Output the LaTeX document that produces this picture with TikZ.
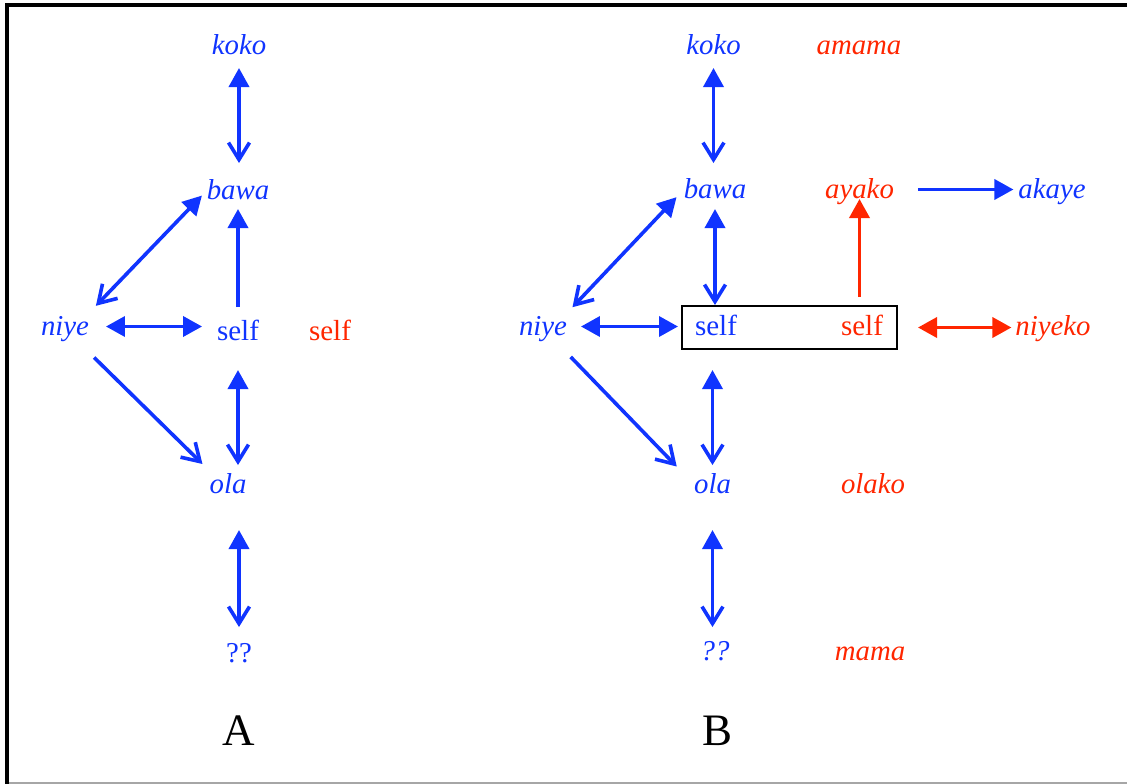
\documentclass[tikz,border=0pt]{standalone}
\usepackage{fontspec}
\setmainfont{Liberation Serif}
\usetikzlibrary{arrows.meta}
\definecolor{cblue}{RGB}{16,52,255}
\definecolor{cred}{RGB}{255,38,0}
\tikzset{
  ft/.tip={Triangle[width=20pt,length=19pt]},
  vt/.tip={Straight Barb[width=21pt,length=17pt]},
  lbl/.style={anchor=base, inner sep=0pt, outer sep=0pt, text height=22pt, text depth=5pt},
  bi/.style={lbl, text=cblue, font=\fontsize{28.8}{34}\selectfont\itshape},
  br/.style={lbl, text=cblue, font=\fontsize{29}{34}\selectfont},
  ri/.style={lbl, text=cred, font=\fontsize{28.8}{34}\selectfont\itshape},
  rr/.style={lbl, text=cred, font=\fontsize{29}{34}\selectfont},
  big/.style={anchor=base, inner sep=0pt, font=\fontsize{45}{50}\selectfont},
  con/.style={line width=3.6pt, color=cblue},
  rcon/.style={line width=3.6pt, color=cred},
}
\begin{document}
\begin{tikzpicture}[x=1pt,y=-1pt]
\useasboundingbox (0,0) rectangle (1127,784);
% frame
\draw[line width=4pt] (7,784) -- (7,5) -- (1127,5);
\draw[black!35, line width=2pt] (9,783) -- (1127,783);

% ---------- A ----------
\node[bi] (kokoA) at (239,55) {koko};
\node[bi] (bawaA) at (238,199) {bawa};
\node[bi] (niyeA) at (65,335) {niye};
\node[br] (selfA) at (238,340) {self};
\node[rr] (selfrA) at (330,340) {self};
\node[bi] (olaA) at (228,493) {ola};
\node[lbl, text=cblue, font=\fontsize{28.8}{34}\selectfont] (qqA) at (239,662) {??};
\node[big] (labA) at (239,745) {A};

\draw[con, ft-vt, shorten <=8pt, shorten >=14pt] (kokoA.south) -- (kokoA.south |- bawaA.north);
\draw[con, vt-ft, shorten <=10pt, shorten >=7pt] (niyeA.north east) -- (bawaA.west);
\draw[con, -ft, shorten <=11pt, shorten >=5pt] (selfA.north) -- (selfA.north |- bawaA.south);
\draw[con, ft-ft, shorten <=17pt, shorten >=15pt] (niyeA.east) -- (niyeA.east -| selfA.west);
\draw[con, -vt, shorten <=25pt, shorten >=10pt] (niyeA.-50) -- (olaA.north west);
\draw[con, ft-vt, shorten <=25pt, shorten >=6pt] (selfA.south) -- (selfA.south |- olaA.north);
\draw[con, ft-vt, shorten <=32pt, shorten >=13pt] (qqA.north |- olaA.south) -- (qqA.north);

% ---------- B ----------
\node[bi] (kokoB) at (713.5,55) {koko};
\node[ri] (amama) at (859,55) {amama};
\node[bi] (bawaB) at (715,198) {bawa};
\node[ri] (ayako) at (859.5,198) {ayako};
\node[bi] (akaye) at (1052,198) {akaye};
\node[bi] (niyeB) at (543,335) {niye};
\node[draw, line width=2.6pt, minimum width=215pt, minimum height=43pt, inner sep=0pt, outer sep=0pt] (box) at (789.5,327.5) {};
\node[br] (selfB) at (716,335) {self};
\node[rr] (selfrB) at (862,335) {self};
\node[ri] (niyeko) at (1053,335) {niyeko};
\node[bi] (olaB) at (712.5,493) {ola};
\node[ri] (olako) at (873,493) {olako};
\node[bi] (qqB) at (715,660) {??};
\node[ri] (mama) at (870,660) {mama};
\node[big] (labB) at (717,745) {B};

\draw[con, ft-vt, shorten <=8pt, shorten >=13pt] (kokoB.south) -- (kokoB.south |- bawaB.north);
\draw[con, vt-ft, shorten <=8pt, shorten >=10.5pt] (niyeB.north east) -- (bawaB.west);
\draw[con, ft-vt, shorten <=6pt, shorten >=1pt] (bawaB.south) -- (bawaB.south |- box.north);
\draw[con, ft-ft, shorten <=14pt, shorten >=4pt] (niyeB.east) -- (niyeB.east -| box.west);
\draw[con, -vt, shorten <=23.5pt, shorten >=25pt] (niyeB.-50) -- (olaB.west);
\draw[con, ft-vt, shorten <=21pt, shorten >=6pt] (olaB.north |- box.south) -- (olaB.north);
\draw[con, ft-vt, shorten <=32pt, shorten >=11pt] (olaB.south) -- (olaB.south |- qqB.north);
\draw[rcon, -ft, shorten <=9pt, shorten >=-4pt] (ayako.south |- box.north) -- (ayako.south);
\draw[con, -ft, shorten <=24pt, shorten >=5pt] (ayako.east) -- (akaye.west);
\draw[rcon, ft-ft, shorten <=21pt, shorten >=4pt] (box.east) -- (box.east -| niyeko.west);
\end{tikzpicture}
\end{document}
